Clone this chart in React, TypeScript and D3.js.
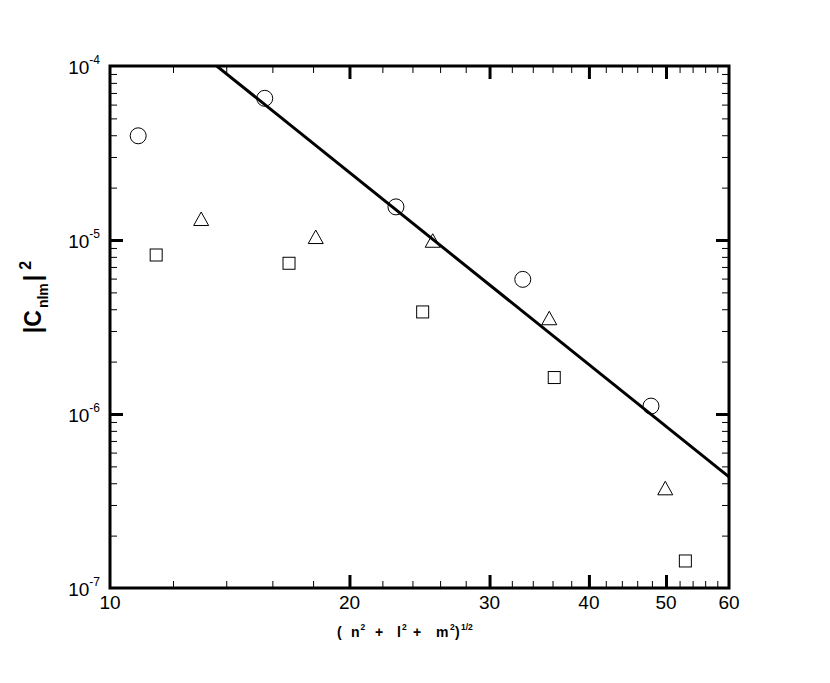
import React, { useEffect, useRef } from "react";
import * as d3 from "d3";

// mode number k = (n^2 + l^2 + m^2)^(1/2) and |C_nlm|^2
const circleK = [10.85, 15.65, 22.88, 33.03, 47.87];
const circleC = [3.97e-5, 6.52e-5, 1.55e-5, 5.94e-6, 1.11e-6];
const triangleK = [13.02, 18.14, 25.45, 35.66, 49.89];
const triangleC = [1.32e-5, 1.04e-5, 9.9e-6, 3.55e-6, 3.74e-7];
const squareK = [11.43, 16.79, 24.72, 36.18, 52.88];
const squareC = [8.2e-6, 7.35e-6, 3.86e-6, 1.62e-6, 1.43e-7];

// power law fit C = a * k^b (Kolmogorov -11/3)
const fitA = 1.44;
const fitB = -11 / 3;

const xMajor = [10, 20, 30, 40, 50, 60];
const xMinor = [12, 14, 16, 18, 22, 24, 26, 28, 32, 34, 36, 38, 42, 44, 46, 48, 52, 54, 56, 58];
const yMajor = [1e-4, 1e-5, 1e-6, 1e-7];
const yExp = ["-4", "-5", "-6", "-7"];
const yMantissa = [2, 3, 4, 5, 6, 7, 8, 9];

const W = 830;
const H = 683;
const margin = { left: 110, right: 101, top: 66, bottom: 95 };

const App = () => {
  const ref = useRef<SVGSVGElement>(null);

  useEffect(() => {
    const svg = d3.select(ref.current);
    svg.selectAll("*").remove();

    const x = d3.scaleLog().domain([10, 60]).range([margin.left, W - margin.right]);
    const y = d3.scaleLog().domain([1e-7, 1e-4]).range([H - margin.bottom, margin.top]);
    const [x0, x1] = x.range();
    const [y0, y1] = [y.range()[1], y.range()[0]];

    const yMinor: number[] = [];
    yMajor.slice(1).forEach((d) => yMantissa.forEach((m) => yMinor.push(d * m)));

    svg
      .append("defs")
      .append("clipPath")
      .attr("id", "plotclip")
      .append("rect")
      .attr("x", x0)
      .attr("y", y0)
      .attr("width", x1 - x0)
      .attr("height", y1 - y0);

    // ticks, all pointing inward on the four sides
    const addAxis = (axis: any, tx: number, ty: number, width: number) => {
      svg
        .append("g")
        .attr("transform", `translate(${tx},${ty})`)
        .call(axis)
        .call((g: any) => g.select(".domain").remove())
        .selectAll("line")
        .attr("stroke", "#000")
        .attr("stroke-width", width);
    };
    const xMaj = xMajor.slice(1, -1);
    const yMaj = yMajor.slice(1, -1);
    addAxis(d3.axisBottom(x).tickValues(xMinor).tickSize(-7).tickFormat(() => ""), 0, y1, 1);
    addAxis(d3.axisTop(x).tickValues(xMinor).tickSize(-7).tickFormat(() => ""), 0, y0, 1);
    addAxis(d3.axisBottom(x).tickValues(xMaj).tickSize(-13).tickFormat(() => ""), 0, y1, 3);
    addAxis(d3.axisTop(x).tickValues(xMaj).tickSize(-13).tickFormat(() => ""), 0, y0, 3);
    addAxis(d3.axisLeft(y).tickValues(yMinor).tickSize(-7).tickFormat(() => ""), x0, 0, 1);
    addAxis(d3.axisRight(y).tickValues(yMinor).tickSize(-7).tickFormat(() => ""), x1, 0, 1);
    addAxis(d3.axisLeft(y).tickValues(yMaj).tickSize(-13).tickFormat(() => ""), x0, 0, 3);
    addAxis(d3.axisRight(y).tickValues(yMaj).tickSize(-13).tickFormat(() => ""), x1, 0, 3);

    // fit line
    const line = d3
      .line<number>()
      .x((k) => x(k))
      .y((k) => y(fitA * Math.pow(k, fitB)));
    svg
      .append("path")
      .attr("clip-path", "url(#plotclip)")
      .attr("d", line(x.domain()))
      .attr("fill", "none")
      .attr("stroke", "#000")
      .attr("stroke-width", 3);

    // markers
    const mk = svg.append("g").attr("fill", "none").attr("stroke", "#000").attr("stroke-width", 1);
    circleK.forEach((k, i) => {
      mk.append("circle").attr("cx", x(k)).attr("cy", y(circleC[i])).attr("r", 8);
    });
    squareK.forEach((k, i) => {
      mk.append("rect")
        .attr("x", x(k) - 6)
        .attr("y", y(squareC[i]) - 6)
        .attr("width", 12)
        .attr("height", 12);
    });
    triangleK.forEach((k, i) => {
      const cx = x(k);
      const cy = y(triangleC[i]);
      mk.append("path").attr("d", `M${cx},${cy - 7}L${cx + 7.5},${cy + 6.5}L${cx - 7.5},${cy + 6.5}Z`);
    });

    // frame
    svg
      .append("rect")
      .attr("x", x0)
      .attr("y", y0)
      .attr("width", x1 - x0)
      .attr("height", y1 - y0)
      .attr("fill", "none")
      .attr("stroke", "#000")
      .attr("stroke-width", 3);

    const font = "'Liberation Sans', Arial, Helvetica, sans-serif";

    // x tick labels
    svg
      .append("g")
      .selectAll("text")
      .data(xMajor)
      .join("text")
      .attr("x", (d) => x(d))
      .attr("y", y1 + 21)
      .attr("text-anchor", "middle")
      .attr("font-family", font)
      .attr("font-size", 19)
      .text((d) => d);

    // y tick labels 10^n
    const yl = svg
      .append("g")
      .selectAll("text")
      .data(yMajor)
      .join("text")
      .attr("x", x0 - 10)
      .attr("y", (d) => y(d) + 8)
      .attr("text-anchor", "end")
      .attr("font-family", font)
      .attr("font-size", 19);
    yl.append("tspan").text("10");
    yl.append("tspan")
      .attr("font-size", 12)
      .attr("dy", -10)
      .text((d, i) => yExp[i]);

    // x title, pieces placed as in the original layout
    const xt = svg
      .append("text")
      .attr("y", 637)
      .attr("font-family", font)
      .attr("font-weight", "bold")
      .attr("font-size", 14);
    const parts: [string, number, boolean][] = [
      ["(", 337, false],
      ["n", 351, false],
      ["2", 360.5, true],
      ["+", 375, false],
      ["l", 397, false],
      ["2", 402, true],
      ["+", 413, false],
      ["m", 436, false],
      ["2", 450, true],
      [")", 455, false],
      ["1/2", 461, true],
    ];
    parts.forEach(([t, px, sup]) => {
      xt.append("tspan")
        .attr("x", px)
        .attr("y", sup ? 630 : 637)
        .attr("font-size", sup ? 8.5 : 14)
        .text(t);
    });

    // y title |C_nlm|^2
    const ytl = svg
      .append("text")
      .attr("transform", `translate(41,297) rotate(-90)`)
      .attr("text-anchor", "middle")
      .attr("font-family", font)
      .attr("font-weight", "bold")
      .attr("font-size", 23);
    ytl.append("tspan").text("|C");
    ytl.append("tspan").attr("font-size", 14).attr("dy", 7).attr("dx", 2).text("nlm");
    ytl.append("tspan").attr("dy", -7).attr("dx", 2).text("|");
    ytl.append("tspan").attr("font-size", 16).attr("dy", -10).attr("dx", 5).text("2");
  }, []);

  return (
    <svg
      ref={ref}
      width={W}
      height={H}
      style={{ position: "absolute", left: 0, top: 0, background: "#fff" }}
    ></svg>
  );
};

export default App;
